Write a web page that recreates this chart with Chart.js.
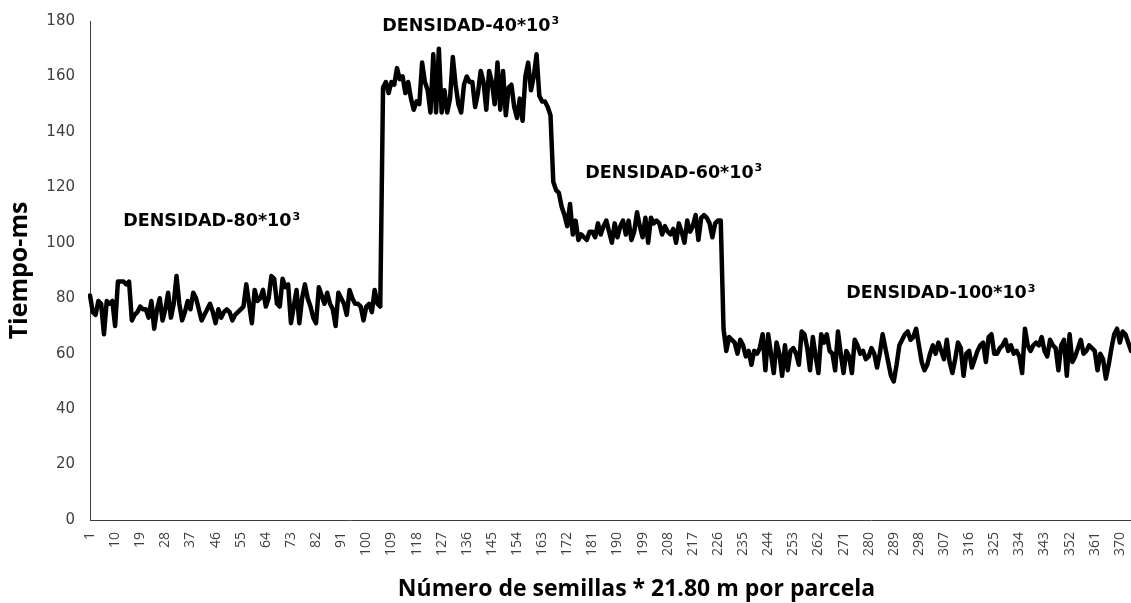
<!DOCTYPE html>
<html>
<head>
<meta charset="utf-8">
<script src="https://cdn.jsdelivr.net/npm/chart.js@4.4.1/dist/chart.umd.min.js"></script>
<style>
  html, body { margin: 0; padding: 0; background: #fff; }
  #wrap { width: 1131px; height: 603px; }
</style>
</head>
<body>
<div id="wrap"><canvas id="tiempoChart" width="1131" height="603"></canvas></div>
<script>
// Tiempo (ms) por semilla, tramo por densidad
const densidad80 = [81, 75, 74, 79, 78, 67, 79, 78, 79, 70, 86, 86, 86, 85, 86, 72, 74, 75, 77, 76,
  76, 73, 79, 69, 76, 80, 72, 76, 82, 73, 78, 88, 78, 72, 75, 79, 76, 82, 80, 76,
  72, 74, 76, 78, 75, 71, 76, 73, 75, 76, 75, 72, 74, 75, 76, 77, 85, 78, 71, 83,
  79, 80, 83, 77, 80, 88, 87, 78, 77, 87, 84, 85, 71, 77, 83, 71, 80, 85, 80, 77,
  73, 71, 84, 81, 78, 82, 78, 76, 70, 82, 80, 78, 74, 83, 80, 78, 78, 77, 72, 77,
  78, 75, 83, 78, 77];
const densidad40 = [156, 158, 154, 158, 157, 163, 159, 160, 154, 158, 152, 148, 151, 150, 165, 158, 155, 147, 168, 147,
  170, 147, 155, 147, 152, 167, 157, 150, 147, 157, 160, 158, 158, 149, 154, 162, 158, 148, 162, 158,
  150, 165, 148, 162, 146, 156, 157, 149, 145, 152, 144, 160, 165, 155, 160, 168, 153, 151, 151, 149,
  146];
const densidad60 = [122, 119, 118, 113, 110, 106, 114, 103, 108, 101, 103, 102, 101, 104, 104, 102, 107, 103, 106, 108,
  104, 100, 107, 102, 106, 108, 103, 108, 101, 104, 111, 106, 102, 109, 100, 109, 107, 108, 107, 103,
  106, 104, 103, 105, 100, 107, 104, 100, 108, 104, 106, 110, 101, 109, 110, 109, 107, 102, 107, 108,
  108];
const densidad100 = [69, 61, 66, 65, 64, 60, 65, 63, 59, 61, 56, 61, 60, 62, 67, 54, 67, 60, 53, 64,
  60, 52, 63, 54, 61, 62, 60, 56, 68, 67, 62, 54, 66, 59, 53, 67, 64, 67, 61, 60,
  54, 68, 60, 53, 61, 59, 53, 65, 63, 60, 61, 58, 59, 62, 60, 55, 60, 67, 62, 57,
  52, 50, 56, 63, 65, 67, 68, 65, 66, 69, 63, 57, 54, 56, 60, 63, 60, 64, 61, 58,
  65, 57, 53, 58, 64, 62, 52, 60, 61, 55, 58, 61, 63, 64, 57, 66, 67, 60, 60, 62,
  63, 65, 61, 63, 60, 61, 59, 53, 69, 63, 61, 63, 64, 63, 66, 61, 59, 65, 63, 62,
  54, 63, 65, 52, 67, 57, 59, 62, 65, 60, 61, 63, 62, 61, 54, 60, 58, 51, 56, 62,
  67, 69, 64, 68, 67, 64, 61];

const tiempo = densidad80.concat(densidad40, densidad60, densidad100);
const semillas = tiempo.map((v, i) => String(i + 1));
const yTicks = [0, 20, 40, 60, 80, 100, 120, 140, 160, 180];
const xTickStep = 9;
const tituloX = 'Número de semillas * 21.80 m por parcela';

// rótulos de cada tramo (posición en unidades del gráfico)
const rotulos = [
  { texto: 'DENSIDAD-80*10', exp: '3', idx: 43.4, valor: 107.6 },
  { texto: 'DENSIDAD-40*10', exp: '3', idx: 136.2, valor: 178 },
  { texto: 'DENSIDAD-60*10', exp: '3', idx: 209, valor: 125 },
  { texto: 'DENSIDAD-100*10', exp: '3', idx: 304.7, valor: 81.6 }
];

const rotulosPlugin = {
  id: 'rotulos',
  afterDatasetsDraw(chart) {
    const { ctx, scales: { x, y } } = chart;
    const fontBase = 'bold 17.5px "DejaVu Sans"';
    const fontExp = 'bold 11px "DejaVu Sans"';
    ctx.save();
    ctx.fillStyle = '#000';
    ctx.textBaseline = 'middle';
    ctx.textAlign = 'left';
    rotulos.forEach(r => {
      ctx.font = fontBase;
      const w1 = ctx.measureText(r.texto).width;
      ctx.font = fontExp;
      const w2 = ctx.measureText(r.exp).width;
      const cx = x.getPixelForValue(r.idx);
      const cy = y.getPixelForValue(r.valor);
      const left = cx - (w1 + w2) / 2;
      ctx.font = fontBase;
      ctx.fillText(r.texto, left, cy);
      ctx.font = fontExp;
      ctx.fillText(r.exp, left + w1 + 1, cy - 5);
    });

    // título del eje x (algo corrido a la derecha como en el original)
    ctx.font = 'bold 23px "Open Sans"';
    ctx.textAlign = 'center';
    ctx.fillText(tituloX, x.left + x.width / 2 + 26, 589);
    ctx.restore();
  }
};

Chart.defaults.font.family = '"Open Sans", sans-serif';

new Chart(document.getElementById('tiempoChart'), {
  type: 'line',
  data: {
    labels: semillas,
    datasets: [{
      data: tiempo,
      borderColor: '#000',
      borderWidth: 4.5,
      borderJoinStyle: 'round',
      borderCapStyle: 'round',
      pointRadius: 0,
      tension: 0,
      fill: false
    }]
  },
  options: {
    responsive: false,
    animation: false,
    layout: { padding: { top: 21, right: 0, left: 0, bottom: 0 } },
    plugins: {
      legend: { display: false },
      tooltip: { enabled: false }
    },
    scales: {
      x: {
        offset: false,
        grid: { display: false },
        border: { display: true, color: '#404040', width: 1 },
        ticks: {
          autoSkip: false,
          minRotation: 90,
          maxRotation: 90,
          padding: 4,
          color: '#404040',
          font: { size: 14 },
          callback: (val, i) => (i % xTickStep === 0 ? semillas[i] : '')
        },
        afterFit(scale) {
          scale.height = 83;
          scale.paddingLeft = 0;
          scale.paddingRight = 0;
        }
      },
      y: {
        min: 0,
        max: 180,
        grid: { display: false },
        border: { display: true, color: '#404040', width: 1 },
        afterBuildTicks(scale) {
          scale.ticks = yTicks.map(v => ({ value: v }));
        },
        ticks: {
          padding: 7,
          color: '#404040',
          font: { family: '"DejaVu Sans"', size: 15 }
        },
        title: {
          display: true,
          text: 'Tiempo-ms',
          color: '#000',
          font: { size: 25, weight: 'bold' },
          padding: { top: 5, bottom: 0 }
        },
        afterFit(scale) {
          scale.width = 90;
          scale.paddingTop = 0;
          scale.paddingBottom = 0;
        }
      }
    }
  },
  plugins: [rotulosPlugin]
});
</script>
</body>
</html>
